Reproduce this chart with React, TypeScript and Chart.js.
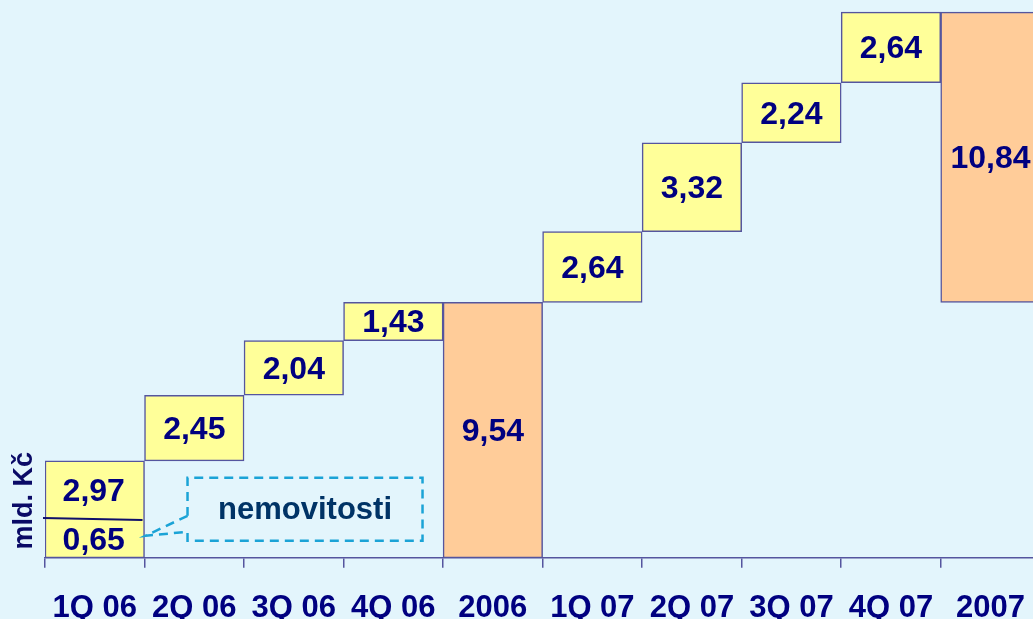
import React, { useEffect, useRef } from "react";
import { Chart, registerables } from "chart.js";

Chart.register(...registerables);

// ---- data ----
const categories = ["1Q 06", "2Q 06", "3Q 06", "4Q 06", "2006", "1Q 07", "2Q 07", "3Q 07", "4Q 07", "2007"];
const isTotal = [false, false, false, false, true, false, false, false, false, true];
// 1Q 06 is split: [nemovitosti, ostatní]
const firstQuarterParts = [0.65, 2.97];
const values = [
  firstQuarterParts[0] + firstQuarterParts[1],
  2.45, 2.04, 1.43, 9.54,
  2.64, 3.32, 2.24, 2.64, 10.84,
];
const yMax = 20.83;
const yTitle = "mld. Kč";
const calloutText = "nemovitosti";

const YELLOW = "#FFFF99";
const ORANGE = "#FFCC99";
const NAVY = "#000080";
const BORDER = "#55559E";
const FONT = "'Liberation Sans', Arial, Helvetica, sans-serif";

const fmt = (v: number) => v.toFixed(2).replace(".", ",");

// floating ranges for waterfall
function buildRanges(): [number, number][] {
  let cum = 0;
  let yearStart = 0;
  return values.map((v, i) => {
    if (isTotal[i]) {
      const r: [number, number] = [yearStart, yearStart + v];
      yearStart = cum;
      return r;
    }
    const r: [number, number] = [cum, cum + v];
    cum += v;
    return r;
  });
}

const labelPlugin = {
  id: "waterfallLabels",
  afterDatasetsDraw(chart: any) {
    const ctx = chart.ctx as CanvasRenderingContext2D;
    const meta = chart.getDatasetMeta(0);
    ctx.save();
    ctx.textAlign = "center";
    ctx.textBaseline = "middle";
    meta.data.forEach((bar: any, i: number) => {
      const top = Math.min(bar.y, bar.base);
      const bottom = Math.max(bar.y, bar.base);
      const left = bar.x - bar.width / 2;
      const right = bar.x + bar.width / 2;
      ctx.font = `bold 32px ${FONT}`;
      ctx.fillStyle = NAVY;
      if (i === 0) {
        const h = bottom - top;
        const divY = bottom - 0.4 * h;
        ctx.strokeStyle = "#10106A";
        ctx.lineWidth = 2;
        ctx.beginPath();
        ctx.moveTo(left - 2, divY - 1);
        ctx.lineTo(right - 2, divY + 1);
        ctx.stroke();
        ctx.fillText(fmt(firstQuarterParts[1]), bar.x - 1, (top + divY) / 2 + 2);
        ctx.fillText(fmt(firstQuarterParts[0]), bar.x - 1, (divY + bottom) / 2 + 3);

        // callout box
        const bl = right + 43;
        const br = right + 278;
        const bt = bottom - 80;
        const bb = bottom - 17;
        const tipX = right + 1;
        const tipY = bottom - 22;
        ctx.strokeStyle = "#1BA3D6";
        ctx.lineWidth = 2.5;
        ctx.setLineDash([9, 6]);
        ctx.beginPath();
        ctx.moveTo(bl, bottom - 42);
        ctx.lineTo(tipX, tipY);
        ctx.lineTo(bl, bottom - 26);
        ctx.lineTo(bl, bb);
        ctx.lineTo(br, bb);
        ctx.lineTo(br, bt);
        ctx.lineTo(bl, bt);
        ctx.lineTo(bl, bottom - 42);
        ctx.stroke();
        ctx.setLineDash([]);
        ctx.font = `bold 31px ${FONT}`;
        ctx.fillStyle = "#003366";
        ctx.fillText(calloutText, (bl + br) / 2, (bt + bb) / 2 + 1);
      } else {
        ctx.fillText(fmt(values[i]), bar.x, (top + bottom) / 2 + 2);
      }
    });

    // y axis title
    const area = chart.chartArea;
    ctx.save();
    ctx.translate(area.left - 20, area.bottom - 57);
    ctx.rotate(-Math.PI / 2);
    ctx.font = `bold 27px ${FONT}`;
    ctx.fillStyle = "#0A0A66";
    ctx.textAlign = "center";
    ctx.textBaseline = "middle";
    ctx.fillText(yTitle, 0, 0);
    ctx.restore();

    ctx.restore();
  },
};

export default function App() {
  const ref = useRef<HTMLCanvasElement | null>(null);

  useEffect(() => {
    if (!ref.current) return;
    const ranges = buildRanges();
    const chart = new Chart(ref.current, {
      type: "bar",
      data: {
        labels: categories,
        datasets: [
          {
            data: ranges as any,
            backgroundColor: isTotal.map((t) => (t ? ORANGE : YELLOW)),
            borderColor: BORDER,
            borderWidth: 1.5,
            borderSkipped: false,
            barPercentage: 1,
            categoryPercentage: 1,
          },
        ],
      },
      options: {
        responsive: false,
        animation: false,
        devicePixelRatio: 1,
        layout: { padding: { left: 45, right: 1, top: 0, bottom: 0 } },
        plugins: { legend: { display: false }, tooltip: { enabled: false } },
        scales: {
          y: { display: false, min: 0, max: yMax },
          x: {
            offset: true,
            grid: {
              offset: true,
              drawOnChartArea: false,
              drawTicks: true,
              tickLength: 10,
              color: BORDER,
              lineWidth: 1.5,
            },
            border: { display: true, color: BORDER, width: 1.5 },
            ticks: {
              autoSkip: false,
              maxRotation: 0,
              minRotation: 0,
              padding: 22,
              color: NAVY,
              font: { family: FONT, size: 31, weight: "bold" },
            },
          },
        },
      },
      plugins: [labelPlugin],
    });
    return () => chart.destroy();
  }, []);

  return (
    <div
      style={{
        position: "fixed",
        left: 0,
        top: 0,
        width: 1033,
        height: 619,
        overflow: "hidden",
        background: "#E3F5FC",
      }}
    >
      <canvas ref={ref} width={1047} height={649} style={{ display: "block", width: 1047, height: 649 }} />
    </div>
  );
}
